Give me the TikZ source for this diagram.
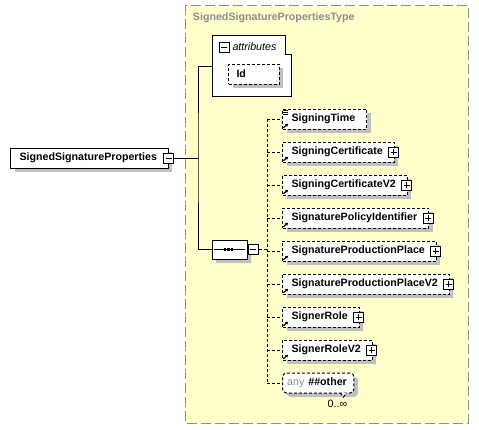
\documentclass[tikz,border=0pt]{standalone}
\usepackage{fontspec}
\setmainfont{Liberation Sans}
\usetikzlibrary{positioning,arrows.meta,shapes.misc,shadows}
\definecolor{typefill}{HTML}{FFFFCC}
\definecolor{typeline}{HTML}{8C8C8C}
\definecolor{shadowgray}{HTML}{C0C0C0}
\newcommand\diagfont{\fontsize{8pt}{9.6pt}\selectfont}
\tikzstyle{boxshadow} = [
drop shadow={shadow xshift=3pt,shadow yshift=-3pt,fill=shadowgray,opacity=1}
]
\tikzstyle{element} = [
rectangle,
draw=black,
fill=white,
minimum height=15pt,
inner xsep=6.75pt,
inner ysep=0pt,
font=\diagfont\bfseries,
execute at end node={\hspace{1.8pt}},
boxshadow
]
\tikzstyle{child} = [
element,
dash pattern=on 2.25pt off 1.5pt
]
\tikzstyle{attribute} = [
child,
text width=26pt,
inner xsep=6pt,
align=left,
execute at end node={}
]
\tikzstyle{button} = [
rectangle,
draw=black,
fill=white,
solid,
line width=0.75pt,
minimum size=7.5pt,
inner sep=0pt
]
\tikzstyle{expand} = [
button,
path picture={\draw[line width=0.75pt] ([xshift=1.5pt]path picture bounding box.west) -- ([xshift=-1.5pt]path picture bounding box.east)
([yshift=-1.5pt]path picture bounding box.north) -- ([yshift=1.5pt]path picture bounding box.south);}
]
\tikzstyle{collapse} = [
button,
path picture={\draw[line width=0.75pt] ([xshift=1.5pt]path picture bounding box.west) -- ([xshift=-1.5pt]path picture bounding box.east);}
]
\tikzstyle{sequence} = [
chamfered rectangle,
chamfered rectangle xsep=3pt,
chamfered rectangle ysep=3pt,
draw=black,
fill=white,
minimum width=26.25pt,
minimum height=14.25pt,
inner sep=0pt,
boxshadow
]
\tikzstyle{link} = [
draw=black,
line width=0.75pt
]
\tikzstyle{dlink} = [
link,
dash pattern=on 2.25pt off 1.5pt
]
\tikzstyle{refarrow} = [
solid,
line width=0.9pt,
-{Stealth[length=2.2pt,width=2.6pt]}
]
\begin{document}
\begin{tikzpicture}[x=0.75pt,y=-0.75pt,line width=0.75pt]
\useasboundingbox (0,0) rectangle (479,429);
					%Type frame
					\draw[fill=typefill,draw=typeline,dash pattern=on 7.5pt off 3pt] (185,5) rectangle (468,423);
					\node[anchor=west,font=\diagfont\bfseries,text=typeline] (typename) at (188,18) {SignedSignaturePropertiesType};
					%Nodes
					\node[element,anchor=west] (root) at (10,158) {SignedSignatureProperties};
					\node[collapse] (root-btn) at (root.east) {};
					\node[minimum width=58.5pt,minimum height=45pt,inner sep=0pt] (attrs) at (252,66) {};
					\draw[fill=white] (attrs.north west) -- ([xshift=-4.5pt]attrs.north east) -- ([xshift=-4.5pt,yshift=-14.25pt]attrs.north east)
						-- ([yshift=-14.25pt]attrs.north east) -- (attrs.south east) -- (attrs.south west) -- cycle;
					\node[collapse] (attrs-btn) at (224,47) {};
					\node[anchor=west,inner xsep=0pt,font=\diagfont\itshape] (attrs-label) at (232,47) {attributes};
					\node[attribute,anchor=west] (id) at (228,74) {Id};
					\node[sequence] (seq) at (229.5,249.5) {};
					\node[collapse,anchor=west] (seq-btn) at (seq.east) {};
					\node[child,anchor=west] (sigtime) at (282,119) {SigningTime};
					\node[child,anchor=west] (sigcert) at (282,152) {SigningCertificate\hspace{7pt}};
					\node[child,anchor=west] (sigcertv2) at (282,185) {SigningCertificateV2\hspace{7pt}};
					\node[child,anchor=west] (policyid) at (282,218) {SignaturePolicyIdentifier\hspace{7pt}};
					\node[child,anchor=west] (prodplace) at (282,251) {SignatureProductionPlace\hspace{7pt}};
					\node[child,anchor=west] (prodplacev2) at (282,284) {SignatureProductionPlaceV2\hspace{7pt}};
					\node[child,anchor=west] (signerrole) at (282,317) {SignerRole\hspace{7pt}};
					\node[child,anchor=west] (signerrolev2) at (282,350) {SignerRoleV2\hspace{7pt}};
					\node[child,anchor=west,rounded corners=3pt,inner xsep=3.5pt] (anyother) at (282,383) {\textcolor{typeline}{\mdseries any}\hspace{3pt}\#\#other};
					\draw[fill=white,dash pattern=on 2.25pt off 1.5pt] ([xshift=-10.5pt,yshift=0.4pt]anyother.south east) -- ([xshift=-8.25pt,yshift=-2.6pt]anyother.south east) -- ([xshift=-6pt,yshift=0.4pt]anyother.south east);
					\node[anchor=north,font=\diagfont,inner sep=0pt] (anyother-occ) at ([xshift=-12.75pt,yshift=-4.5pt]anyother.south east) {0..∞};
					\foreach \n in {sigcert,sigcertv2,policyid,prodplace,prodplacev2,signerrole,signerrolev2}
						\node[expand] (\n-btn) at ([xshift=-0.75pt]\n.east) {};
					%Icons
					\draw ([xshift=1.5pt]seq.west) -- ([xshift=-2pt]seq.east);
					\foreach \i in {-1,0,1}
						\fill ([xshift=\i*2.6pt-0.8pt]seq.center) +(-0.9pt,-0.9pt) rectangle +(0.9pt,0.9pt);
					\foreach \n in {sigtime,sigcert,sigcertv2,policyid,prodplace,prodplacev2,signerrole,signerrolev2}
						\draw[refarrow] ([shift={(1pt,1.3pt)}]\n.south west) -- ++(3.6pt,3pt);
					\foreach \k in {1,2,3}
						\draw[solid,line width=0.6pt] ([shift={(0.8pt,-0.2pt-1.3pt*\k)}]sigtime.north west) -- ++(3.6pt,0);
					%Arrows
					\coordinate (spine) at (198,158);
					\coordinate (bus) at (267,0);
					\draw[link] (root-btn.east) -- (spine);
					\draw[link] (attrs.west) -| (spine) |- (seq.west);
					\draw[dlink] (seq-btn.east) -- (seq-btn.east -| bus);
					\draw[dlink] (sigtime.west -| bus) -- (anyother.west -| bus);
					\foreach \n in {sigtime,sigcert,sigcertv2,policyid,prodplace,prodplacev2,signerrole,signerrolev2,anyother}
						\draw[dlink] (\n.west -| bus) -- (\n.west);
				\end{tikzpicture}
\end{document}
